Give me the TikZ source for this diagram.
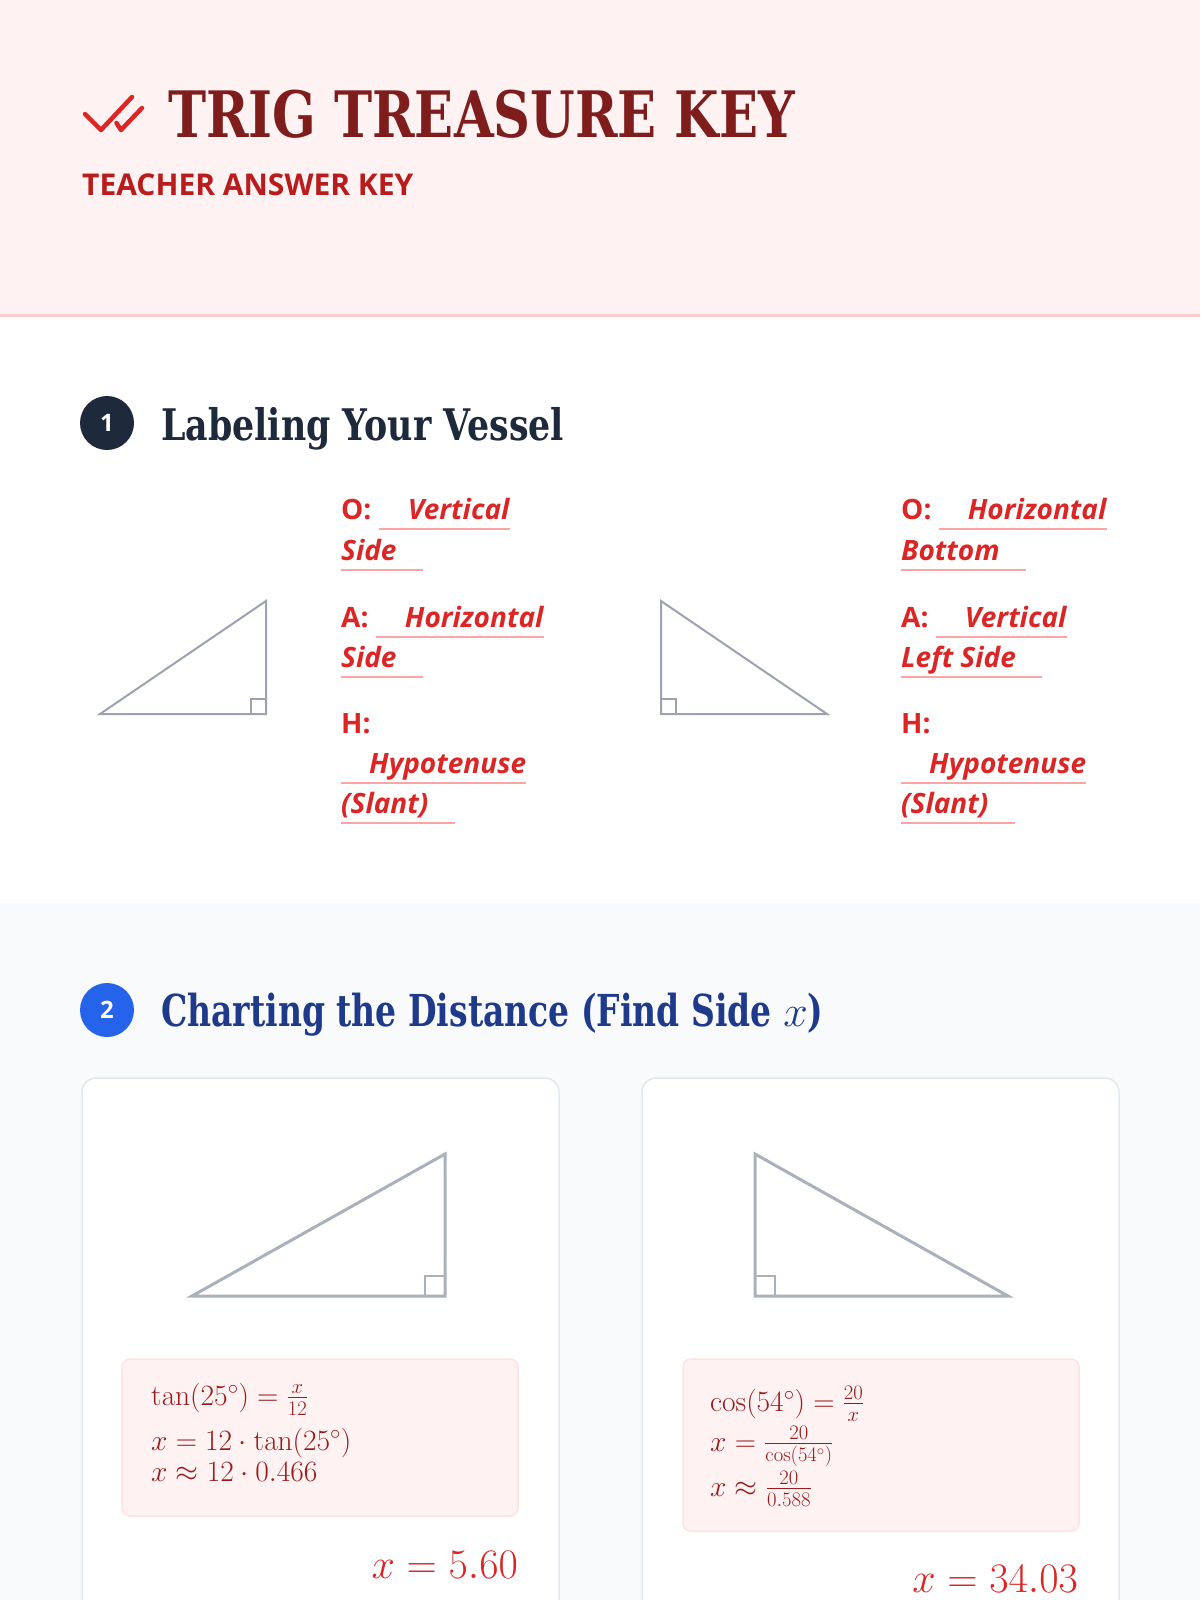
\RequirePackage{fix-cm}
\documentclass[tikz,border=0pt]{standalone}
\usepackage[no-math]{fontspec}
\usepackage{amsmath}
\usetikzlibrary{calc}
\setmainfont{Open Sans}
\newfontfamily\slab[FakeStretch=0.8]{DejaVu Serif}
\newfontfamily\slabn[FakeStretch=0.75]{DejaVu Serif}
\newfontfamily\osans{Open Sans}
\newcommand\fs[1]{\fontsize{#1}{#1}\selectfont}
\definecolor{headerbg}{HTML}{FEF2F2}
\definecolor{headerline}{HTML}{FECACA}
\definecolor{titlecol}{HTML}{7F1D1D}
\definecolor{subcol}{HTML}{B91C1C}
\definecolor{ansred}{HTML}{DC2626}
\definecolor{ulcol}{HTML}{FCA5A5}
\definecolor{navy}{HTML}{1E293B}
\definecolor{bluec}{HTML}{2563EB}
\definecolor{blue9}{HTML}{1E3A8A}
\definecolor{sectbg}{HTML}{F8FAFC}
\definecolor{cardline}{HTML}{E2E8F0}
\definecolor{tri}{HTML}{9CA3AF}
\definecolor{tritwo}{HTML}{AAB1BA}
\definecolor{fcol}{HTML}{991B1B}
\definecolor{boxfill}{HTML}{FEF2F2}
\definecolor{boxline}{HTML}{FEE2E2}
\begin{document}
\begin{tikzpicture}[x=1pt,y=-1pt,
  txt/.style={anchor=base west,inner sep=0pt},
  lbl/.style={txt,text=ansred,font=\osans\bfseries\fs{28}},
  ans/.style={txt,text=ansred,font=\osans\bfseries\itshape\fs{28}},
  uline/.style={draw=ulcol,line width=2.8pt},
  trione/.style={draw=tri,line width=2pt,line join=miter},
  sqone/.style={draw=tri,line width=1.2pt},
  tritwo/.style={draw=tritwo,line width=3pt,line join=miter},
  sqtwo/.style={draw=tritwo,line width=1.5pt},
  numc/.style={circle,minimum size=54pt,inner sep=0pt,text=white,font=\osans\bfseries\fs{24}},
  card/.style={draw=cardline,line width=1.5pt,fill=white,rounded corners=14pt},
  fbox/.style={draw=boxline,line width=1.5pt,fill=boxfill,rounded corners=8pt},
  form/.style={txt,text=fcol,font=\fs{29.5}},
  answer/.style={anchor=base east,inner sep=0pt,text=ansred,font=\fs{42}},
  check/.style={draw=ansred,line width=4.5pt,line cap=round,line join=round}
]
\useasboundingbox (0,0) rectangle (1200,1600);
\clip (0,0) rectangle (1200,1600);
% backgrounds
\fill[headerbg] (0,0) rectangle (1200,315);
\fill[white] (0,315) rectangle (1200,903);
\fill[sectbg] (0,903) rectangle (1200,1600);
\draw[headerline,line width=3pt] (0,315) -- (1200,315);
% header
\draw[check] (85,114) -- (101,130) -- (132,97);
\draw[check] (116.5,123) -- (121,130) -- (142,108);
\node[txt,text=titlecol,font=\slab\bfseries\fs{64}] (title) at (168,138) {TRIG TREASURE KEY};
\node[txt,text=subcol,font=\osans\bfseries\fs{30}] (sub) at (82,195) {TEACHER ANSWER KEY};
% section 1
\node[numc,fill=navy] (n1) at (107,423) {1};
\node[txt,text=navy,font=\slab\bfseries\fs{43.5}] (h1) at (161,440) {Labeling Your Vessel};
\draw[trione] (100,714) -- (266,714) -- (266,601) -- cycle;
\draw[sqone] (251,714) rectangle (266,699);
\draw[trione] (661,601) -- (661,714) -- (827,714) -- cycle;
\draw[sqone] (661,699) rectangle (676,714);
% left labels
\node[lbl] (lo) at (341,519) {O:};
\node[ans] (lo1) at ($(lo.base east)+(36,0)$) {Vertical};
\node[ans] (lo2) at (341,560) {Side};
\draw[uline] ($(lo.base east)+(7,10)$) -- ($(lo1.base east)+(0,10)$);
\draw[uline] ($(lo2.base west)+(0,10)$) -- ($(lo2.base east)+(26,10)$);
\node[lbl] (la) at (341,627) {A:};
\node[ans] (la1) at ($(la.base east)+(36,0)$) {Horizontal};
\node[ans] (la2) at (341,667) {Side};
\draw[uline] ($(la.base east)+(7,10)$) -- ($(la1.base east)+(0,10)$);
\draw[uline] ($(la2.base west)+(0,10)$) -- ($(la2.base east)+(26,10)$);
\node[lbl] (lh) at (341,733) {H:};
\node[ans] (lh1) at (369,773) {Hypotenuse};
\node[ans] (lh2) at (341,813) {(Slant)};
\draw[uline] (341,783) -- ($(lh1.base east)+(0,10)$);
\draw[uline] ($(lh2.base west)+(0,10)$) -- ($(lh2.base east)+(26,10)$);
% right labels
\node[lbl] (ro) at (901,519) {O:};
\node[ans] (ro1) at ($(ro.base east)+(36,0)$) {Horizontal};
\node[ans] (ro2) at (901,560) {Bottom};
\draw[uline] ($(ro.base east)+(7,10)$) -- ($(ro1.base east)+(0,10)$);
\draw[uline] ($(ro2.base west)+(0,10)$) -- ($(ro2.base east)+(26,10)$);
\node[lbl] (ra) at (901,627) {A:};
\node[ans] (ra1) at ($(ra.base east)+(36,0)$) {Vertical};
\node[ans] (ra2) at (901,667) {Left Side};
\draw[uline] ($(ra.base east)+(7,10)$) -- ($(ra1.base east)+(0,10)$);
\draw[uline] ($(ra2.base west)+(0,10)$) -- ($(ra2.base east)+(26,10)$);
\node[lbl] (rh) at (901,733) {H:};
\node[ans] (rh1) at (929,773) {Hypotenuse};
\node[ans] (rh2) at (901,813) {(Slant)};
\draw[uline] (901,783) -- ($(rh1.base east)+(0,10)$);
\draw[uline] ($(rh2.base west)+(0,10)$) -- ($(rh2.base east)+(26,10)$);
% section 2
\node[numc,fill=bluec] (n2) at (107,1010) {2};
\node[txt,text=blue9,font=\slabn\bfseries\fs{44}] (h2) at (161,1026) {Charting the Distance (Find Side $x$)};
\draw[card] (82,1078) rectangle (559,1650);
\draw[card] (642,1078) rectangle (1119,1650);
\draw[tritwo] (192,1296) -- (445,1296) -- (445,1154) -- cycle;
\draw[sqtwo] (425,1296) rectangle (445,1276);
\draw[tritwo] (755,1154) -- (755,1296) -- (1008,1296) -- cycle;
\draw[sqtwo] (755,1276) rectangle (775,1296);
\draw[fbox] (122,1359) rectangle (518,1516);
\draw[fbox] (683,1359) rectangle (1079,1531);
\node[form] (f1) at (151,1405) {$\tan(25^\circ) = \frac{x}{12}$};
\node[form] (f2) at (151,1450) {$x = 12\cdot\tan(25^\circ)$};
\node[form] (f3) at (151,1481) {$x \approx 12\cdot 0.466$};
\node[answer] (a1) at (518,1578) {$x = 5.60$};
\node[form] (g1) at (710,1411) {$\cos(54^\circ) = \frac{20}{x}$};
\node[form] (g2) at (710,1451) {$x = \frac{20}{\cos(54^\circ)}$};
\node[form] (g3) at (710,1496) {$x \approx \frac{20}{0.588}$};
\node[answer] (a2) at (1078,1592) {$x = 34.03$};
\end{tikzpicture}
\end{document}
